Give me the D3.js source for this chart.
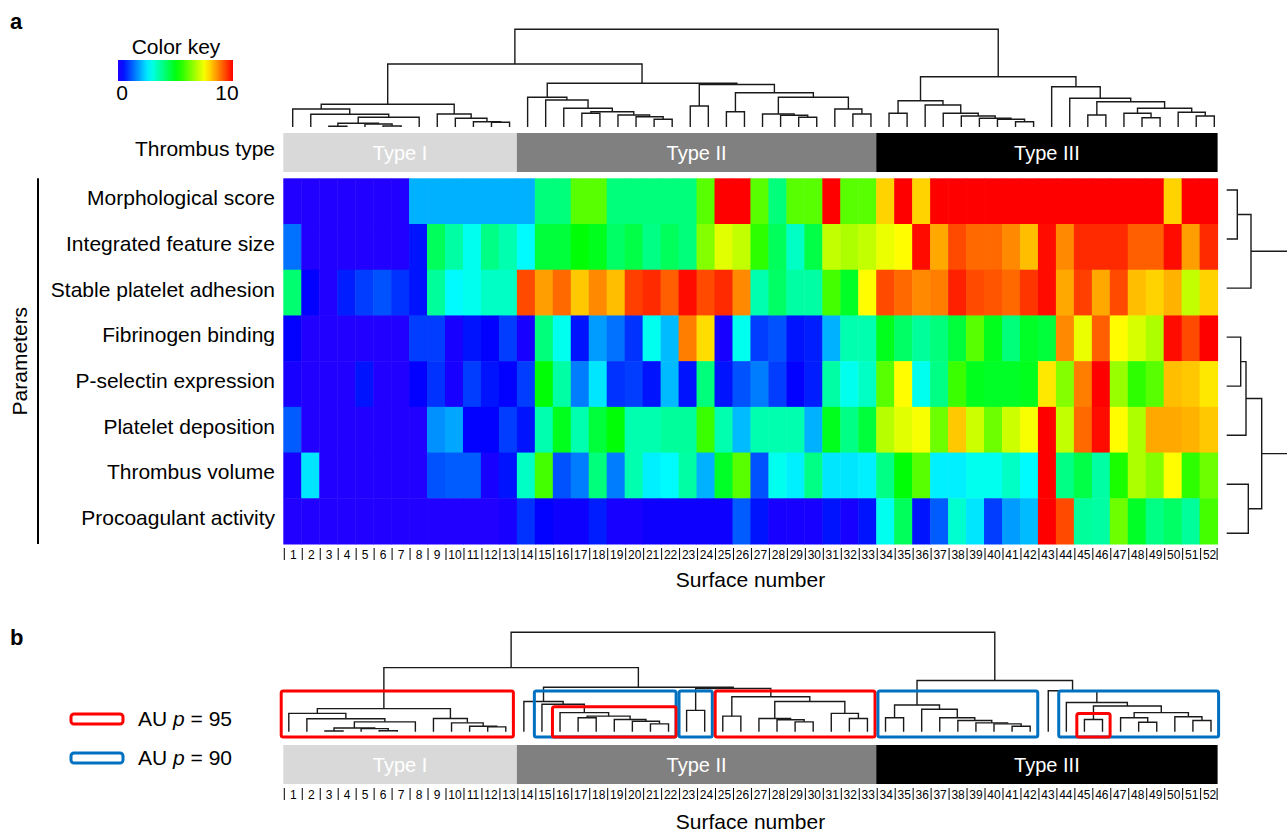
<!DOCTYPE html>
<html>
<head>
<meta charset="utf-8">
<script src="https://cdn.jsdelivr.net/npm/d3@7"></script>
<style>
body { margin: 0; background: #fff; }
text { font-family: "Liberation Sans", Arial, Helvetica, sans-serif; fill: #000; }
</style>
</head>
<body>
<div id="canvas"></div>
<script>
// ---------------- data ----------------
const surfaces = d3.range(1, 53);

const parameters = ["Morphological score", "Integrated feature size", "Stable platelet adhesion",
  "Fibrinogen binding", "P-selectin expression", "Platelet deposition", "Thrombus volume",
  "Procoagulant activity"];

const morphologicalScore = [0,0,0,0,0,0,0, 2,2,2,2,2,2,2, 4,4, 6,6, 4,4,4,4,4, 6, 10,10, 6, 4, 6,6, 10, 6,6,
  8, 10, 8, 10,10,10,10,10,10,10,10,10,10,10,10,10, 8, 10,10];
const featureSize = [1.4,0,0,0,0,0,0,0.5,4.3,3.6,2.9,3.9,3.5,2.7,4.6,4.6,5.1,4.9,4.2,4.5,3.9,4.3,4.0,6.4,7.3,7.0,
  5.6,4.3,3.3,4.5,7.0,6.8,7.0,7.4,7.6,9.9,8.4,9.3,9.0,9.0,8.7,8.2,9.9,8.7,9.6,9.6,9.6,9.1,9.1,9.9,8.5,9.6];
const plateletAdhesion = [4.1,0.3,0,0.6,0.9,1.1,0.8,0.5,3.7,2.7,2.9,3.3,3.3,9.3,8.5,9.0,8.1,8.7,8.2,9.4,9.6,9.1,9.9,9.3,9.6,8.7,
  3.5,4.2,3.6,3.6,5.8,4.8,7.6,9.3,9.0,8.7,8.8,9.7,9.3,9.2,9.0,9.5,9.9,8.4,9.4,8.4,9.3,8.2,8.0,8.3,7.0,8.0];
const fibrinogenBinding = [0.3,0,0,0,0,0,0,0.9,0.9,0.1,0.5,0.3,0.9,0.1,4.0,2.9,0.5,1.8,1.4,0.8,2.9,2.1,8.8,7.9,0.1,2.9,
  0.9,1.1,0.5,0.6,2.0,3.5,3.5,4.9,4.2,3.7,4.0,4.6,6.0,4.9,4.0,4.8,4.6,8.7,7.4,9.1,7.6,7.2,6.8,9.9,9.3,10];
const pSelectin = [0.1,0,0,0,0.5,0,0,0.3,0.8,0.1,0.9,0.5,0.3,0.9,5.1,3.6,1.5,2.5,0.8,0.9,0.5,2.1,0.5,4.0,0.5,1.1,
  1.5,0.9,0.3,0.6,3.6,2.9,3.3,6.0,7.6,2.9,3.9,5.7,4.9,4.8,4.8,4.9,7.8,6.4,8.8,10,6.6,5.6,6.0,8.2,8.1,7.8];
const plateletDeposition = [1.2,0,0,0,0,0,0,0,1.7,1.9,0.3,0.3,0.9,0.5,3.5,4.9,3.5,4.6,5.1,3.5,3.5,3.7,3.7,5.7,3.5,2.1,
  3.5,3.5,3.5,2.0,4.9,3.9,4.6,6.9,7.3,7.5,6.2,8.1,7.1,6.2,7.1,7.5,10,7.0,9.0,9.9,7.6,6.8,8.4,8.4,8.3,8.1];
const thrombusVolume = [0.1,2.5,0,0,0,0,0,0,1.1,1.2,1.2,0.1,0.5,3.3,5.8,1.1,1.5,4.0,1.5,3.5,2.6,2.7,3.6,2.0,4.8,6.0,
  1.1,2.9,2.6,3.9,2.5,2.5,2.6,3.9,5.1,6.0,2.6,2.6,2.9,2.9,3.3,2.7,10,3.9,4.5,3.6,5.4,6.8,6.4,7.6,5.6,6.2];
const procoagulantActivity = [0,0,0,0,0,0,0,0,0,0,0,0,0.1,0.8,0.3,0.2,0.2,0.6,0.1,0.1,0.2,0.2,0.2,0.2,0.2,1.2,
  0.5,0.1,0.1,0.1,0.5,0.1,0.5,2.9,4.3,0.5,1.2,3.2,2.5,0.9,1.8,2.1,10,9.3,3.7,3.6,6.2,4.8,3.9,4.2,3.7,5.8];

const valueRows = [morphologicalScore, featureSize, plateletAdhesion, fibrinogenBinding,
  pSelectin, plateletDeposition, thrombusVolume, procoagulantActivity];

const typeNames = ["Type I", "Type II", "Type III"];
const typeFirst = [1, 14, 34];
const typeLast = [13, 33, 52];

// dendrograms: [mergeHeight, left, right], leaves are surface / parameter numbers
const colTree =
[97.7,
  [63,
    [22.7,
      [18, 1, [12.7, 2, [9.7, [3.7, [0.7, 3, 4], [3, 5, [1, 6, 7]]], 8]]],
      [13, 9, [8.7, 10, [5.3, 11, [4.7, 12, 13]]]]
    ],
    [43.7,
      [29.7, 14, [27, 15, [18.7, 16, [15.3, [13.7, 17, 18], [12, 19, [10.3, 20, [7.7, 21, 22]]]]]]],
      [42.5, [21, 23, 24], [34.3, [15.3, 25, 26], [29.7, [13, 27, [11.7, 28, [9.7, 29, 30]]], [18, 31, [13, 32, 33]]]]]
    ]
  ],
  [50.3,
    [26.3, [13.7, 34, 35], [22, 36, [13.7, 37, [11, 38, [8.7, 39, [7.7, 40, [5.3, 41, 42]]]]]]],
    [40.3, 43, [28.7, 44, [25.3, [12, 45, 46], [18.7, [13.7, 47, [9.3, 48, 49]], [14.7, 50, [11, 51, 52]]]]]]
  ]
];
const rowTree = [64, [24.3, [10.6, 1, 2], 3], [35, [19.3, [14, 4, 5], 6], [21.6, 7, 8]]];

// AU p-value clusters: first surface, last surface, AU
const auClusters = [[1, 13, 95], [15, 22, 90], [16, 22, 95], [23, 24, 90],
  [25, 33, 95], [34, 42, 90], [44, 52, 90], [45, 46, 95]];
const auLevels = [95, 90];

// ---------------- layout ----------------
const width = 1287, height = 835;
const heat = {left: 283.3, right: 1217.6, top: 178.3, bottom: 544};
const typeColors = ["#d9d9d9", "#808080", "#000000"];
const auColors = {95: "#ff0000", 90: "#0070c0"};
const fs = 21;

const svg = d3.select("#canvas").append("svg")
  .attr("width", width).attr("height", height);

const x = d3.scaleBand().domain(surfaces).range([heat.left, heat.right]);
const y = d3.scaleBand().domain(parameters).range([heat.top, heat.bottom]);
const hue = d3.scaleLinear().domain([0, 10]).range([248, 0]);
const color = v => d3.hsl(hue(v), 1, 0.5).toString();

// panel labels
svg.append("text").attr("x", 10).attr("y", 29).attr("font-size", 22).attr("font-weight", "bold").text("a");
svg.append("text").attr("x", 10).attr("y", 645).attr("font-size", 22).attr("font-weight", "bold").text("b");

// color key
const grad = svg.append("defs").append("linearGradient").attr("id", "key");
d3.range(0, 10.01, 0.5).forEach(v => grad.append("stop").attr("offset", v * 10 + "%").attr("stop-color", color(v)));
svg.append("rect").attr("x", 118).attr("y", 60).attr("width", 115).attr("height", 21).attr("fill", "url(#key)");
svg.append("text").attr("x", 176).attr("y", 54).attr("text-anchor", "middle").attr("font-size", fs).text("Color key");
svg.append("text").attr("x", 122).attr("y", 100).attr("text-anchor", "middle").attr("font-size", fs).text("0");
svg.append("text").attr("x", 227).attr("y", 100).attr("text-anchor", "middle").attr("font-size", fs).text("10");

// heatmap
const cells = [];
valueRows.forEach((row, i) => row.forEach((v, j) => cells.push({p: parameters[i], s: surfaces[j], v: v})));
svg.append("g").selectAll("rect").data(cells).join("rect")
  .attr("x", d => x(d.s)).attr("y", d => y(d.p))
  .attr("width", x.bandwidth() + 0.5).attr("height", y.bandwidth() + 0.5)
  .attr("fill", d => color(d.v));

svg.append("g").selectAll("text").data(parameters).join("text")
  .attr("x", 275).attr("y", d => y(d) + y.bandwidth() / 2 + 4)
  .attr("text-anchor", "end").attr("font-size", fs).text(d => d);

svg.append("line").attr("x1", 38).attr("x2", 38).attr("y1", heat.top).attr("y2", heat.bottom)
  .attr("stroke", "#000").attr("stroke-width", 2);
svg.append("text").attr("transform", `translate(27, ${(heat.top + heat.bottom) / 2}) rotate(-90)`)
  .attr("text-anchor", "middle").attr("font-size", fs).text("Parameters");

// thrombus type bars
function typeBar(y0, h) {
  const g = svg.append("g");
  typeNames.forEach((t, i) => {
    const x0 = x(typeFirst[i]), x1 = x(typeLast[i]) + x.bandwidth();
    g.append("rect").attr("x", x0).attr("y", y0).attr("width", x1 - x0).attr("height", h).attr("fill", typeColors[i]);
    g.append("text").attr("x", (x0 + x1) / 2).attr("y", y0 + h / 2 + 7).attr("text-anchor", "middle")
      .attr("font-size", 20).style("fill", "#fff").text(t);
  });
}
typeBar(133, 39);
typeBar(745, 39);
svg.append("text").attr("x", 275).attr("y", 156).attr("text-anchor", "end").attr("font-size", fs).text("Thrombus type");

// surface number ticks
function surfaceAxis(y0, labelY) {
  const g = svg.append("g");
  g.selectAll("line").data(surfaces.concat([53])).join("line")
    .attr("x1", d => d > 52 ? heat.right - 0.5 : x(d) + 1).attr("x2", d => d > 52 ? heat.right - 0.5 : x(d) + 1)
    .attr("y1", y0).attr("y2", y0 + 12).attr("stroke", "#000").attr("stroke-width", 1);
  g.selectAll("text").data(surfaces).join("text")
    .attr("x", d => x(d) + x.bandwidth() / 2 + 1).attr("y", y0 + 10.5)
    .attr("text-anchor", "middle").attr("font-size", 12).text(d => d);
  svg.append("text").attr("x", (heat.left + heat.right) / 2).attr("y", labelY)
    .attr("text-anchor", "middle").attr("font-size", fs).text("Surface number");
}
surfaceAxis(548, 587);
surfaceAxis(788, 829);

// dendrograms
function layoutTree(tree, leafPos, levelPos) {
  const root = d3.hierarchy(tree, d => Array.isArray(d) ? d.slice(1) : null);
  root.eachAfter(n => {
    if (n.children) {
      n.pos = d3.mean(n.children, c => c.pos);
      n.lev = levelPos(n.data[0]);
    } else {
      n.pos = leafPos(n.data);
      n.lev = levelPos(0);
    }
  });
  return root;
}

function drawColTree(root) {
  svg.append("g").selectAll("path").data(root.descendants().filter(n => n.children)).join("path")
    .attr("fill", "none").attr("stroke", "#1a1a1a").attr("stroke-width", 1.4)
    .attr("d", n => {
      const [a, b] = n.children;
      return `M${a.pos},${a.lev}V${n.lev}H${b.pos}V${b.lev}`;
    });
}

const topLeaf = d3.scalePoint().domain(surfaces).range([292.7, 1214.3]);
const topTree = layoutTree(colTree, d => topLeaf(d), d3.scaleLinear().domain([0, 97.7]).range([127, 29.3]));
drawColTree(topTree);

const bLeaf = d3.scalePoint().domain(surfaces).range([288.8, 1211]);
const bLevel = d3.scaleLinear().domain([0, 97.7]).range([731.7, 632.3]);
const bTree = layoutTree(colTree, d => bLeaf(d), bLevel);
drawColTree(bTree);

// row dendrogram (right side)
const rowLeaf = d3.scalePoint().domain(d3.range(1, 9)).range([190, 533.3]);
const rTree = layoutTree(rowTree, d => rowLeaf(d), d3.scaleLinear().domain([0, 64]).range([1226.7, 1290.7]));
svg.append("g").selectAll("path").data(rTree.descendants().filter(n => n.children)).join("path")
  .attr("fill", "none").attr("stroke", "#1a1a1a").attr("stroke-width", 1.4)
  .attr("d", n => {
    const [a, b] = n.children;
    return `M${a.lev},${a.pos}H${n.lev}V${b.pos}H${b.lev}`;
  });

// AU boxes on panel b
const step = bLeaf.step();
auClusters.forEach(([first, last, au]) => {
  const node = bTree.descendants().find(n => {
    const ls = n.leaves().map(l => l.data);
    return d3.min(ls) === first && d3.max(ls) === last;
  });
  const nested = auClusters.some(([f, l]) => (f < first && l >= last) || (f <= first && l > last));
  const top = nested ? node.lev - 6 : bLevel(40);
  const x0 = bLeaf(first) - step * 0.42, x1 = bLeaf(last) + step * 0.42;
  svg.append("rect").attr("x", x0).attr("y", top).attr("width", x1 - x0).attr("height", 737 - top)
    .attr("rx", 2).attr("fill", "none").attr("stroke", auColors[au]).attr("stroke-width", 3);
});

// AU legend
auLevels.forEach((au, i) => {
  const ly = 719 + i * 39;
  svg.append("rect").attr("x", 71).attr("y", ly - 5).attr("width", 52).attr("height", 10).attr("rx", 3)
    .attr("fill", "none").attr("stroke", auColors[au]).attr("stroke-width", 3);
  const t = svg.append("text").attr("x", 138).attr("y", ly + 7).attr("font-size", fs);
  t.append("tspan").text("AU ");
  t.append("tspan").attr("font-style", "italic").text("p");
  t.append("tspan").text(" = " + au);
});
</script>
</body>
</html>
